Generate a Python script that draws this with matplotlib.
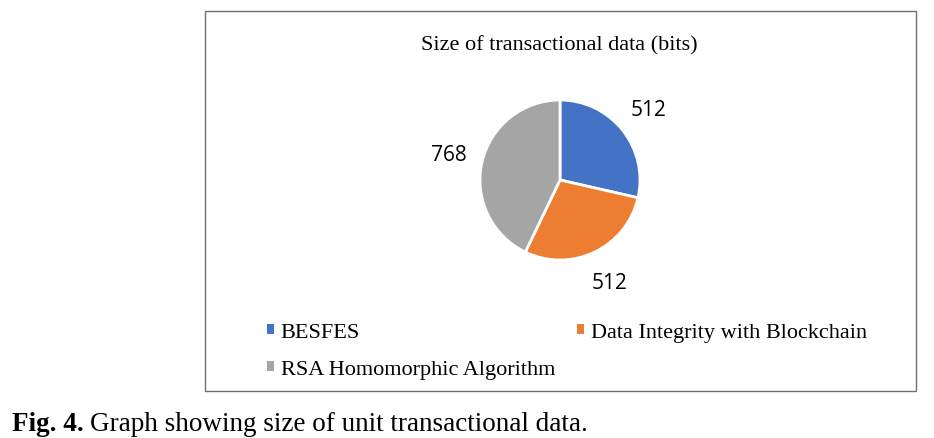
import matplotlib
matplotlib.use("Agg")
import matplotlib.pyplot as plt
from matplotlib.patches import Rectangle, Patch

methods = ['BESFES', 'Data Integrity with Blockchain', 'RSA Homomorphic Algorithm']
sizes = [512, 512, 768]
colors = ['#4472C4', '#ED7D31', '#A5A5A5']

W, H = 934, 439
fig = plt.figure(figsize=(W / 100, H / 100), dpi=100)

# outer chart frame
fig.patches.append(Rectangle((205 / W, 1 - 392 / H), (916 - 205) / W, (392 - 12) / H,
                             transform=fig.transFigure, fill=False,
                             edgecolor='#707070', linewidth=1))

fig.text(559 / W, 1 - 46 / H, 'Size of transactional data (bits)',
         ha='center', va='center', fontsize=16, family='Liberation Serif')

# pie, centre ~ (560, 181) px, radius ~ 80 px
cx, cy, r = 560, 181, 80
ax = fig.add_axes([(cx - r) / W, 1 - (cy + r) / H, 2 * r / W, 2 * r / H])
wedges, texts = ax.pie(sizes, colors=colors, startangle=90, counterclock=False,
                       labels=[str(s) for s in sizes], labeldistance=1.42,
                       wedgeprops=dict(edgecolor='white', linewidth=2),
                       textprops=dict(fontsize=15, family='Open Sans'))
for t in texts:
    t.set_ha('center')
    t.set_va('center')
ax.set_xlim(-1, 1)
ax.set_ylim(-1, 1)
ax.set_aspect('equal')
ax.axis('off')

handles = [Patch(facecolor=c, edgecolor='none') for c in colors]
order = [0, 2, 1]
fig.legend([handles[i] for i in order], [methods[i] for i in order],
           ncol=2, loc='upper left', bbox_to_anchor=(267 / W, 1 - 324 / H),
           frameon=False, handlelength=0.32, handleheight=0.32, handletextpad=0.3,
           columnspacing=1.0, labelspacing=0.82, borderaxespad=0, borderpad=0,
           prop=dict(family='Liberation Serif', size=16))

cap = fig.text(12 / W, 1 - 425 / H, 'Fig. 4.', ha='left', va='center', fontsize=19.5,
               family='Liberation Serif', weight='bold')
fig.canvas.draw()
bb = cap.get_window_extent()
fig.text((bb.x1 + 6) / W, 1 - 425 / H, 'Graph showing size of unit transactional data.',
         ha='left', va='center', fontsize=19.5, family='Liberation Serif')

fig.savefig('out.png', dpi=100)
